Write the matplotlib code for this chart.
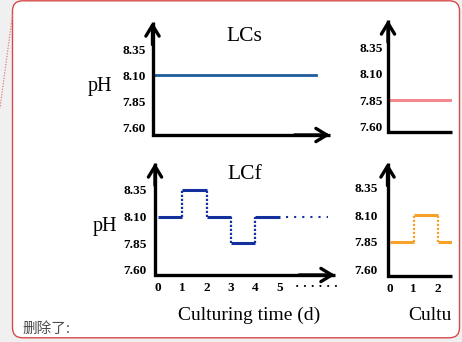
import matplotlib
matplotlib.use("Agg")
import matplotlib.pyplot as plt
import matplotlib.transforms as mtransforms
from matplotlib.patches import FancyBboxPatch
from matplotlib.lines import Line2D

W, H = 462, 342

# pH axis ticks
tick_vals = [7.60, 7.85, 8.10, 8.35]
tick_text = ["7.60", "7.85", "8.10", "8.35"]
day_ticks = [0, 1, 2, 3, 4, 5]

# LCs: constant pH
lcs_days = [0, 5]
lcs_ph = [8.10, 8.10]
# right (cut off) top panel
rt_days = [0, 5]
rt_ph = [7.85, 7.85]

# LCf: daily fluctuating pH
lcf_days = [0, 1, 2, 3, 4, 5]
lcf_ph = [8.10, 8.35, 8.10, 7.85, 8.10]
lcf_more = [5.27, 7.0]  # dotted continuation at 8.10
# right (cut off) bottom panel
rb_days = [0, 1, 2, 3]
rb_ph = [7.85, 8.10, 7.85]

plt.rcParams['font.family'] = ['Liberation Serif', 'DejaVu Serif']

fig = plt.figure(figsize=(W / 100, H / 100), dpi=100)
fig.patch.set_facecolor("#f0f0f0")
px = mtransforms.Affine2D().scale(1 / W, -1 / H).translate(0, 1) + fig.transFigure

# red rounded frame + dotted comment line
frame = FancyBboxPatch((12.5, 0.8), 447, 337, boxstyle="round,pad=0,rounding_size=10",
                       transform=px, fc="white", ec="#d84a4a", lw=1.0, zorder=-5)
fig.patches.append(frame)
fig.add_artist(Line2D([12.5, 0], [15, 108], transform=px, color="#e27c7c",
                      lw=0.9, ls=(0, (1, 1.2))))


def panel(axis_x, base_y, tip_y, right_x, y835, y760, x0, unit, ypad, xticks, arrow_x=True):
    ax = fig.add_axes([axis_x / W, 1 - base_y / H, (right_x - axis_x) / W, (base_y - tip_y) / H])
    ax.patch.set_visible(False)
    for s in ax.spines.values():
        s.set_visible(False)
    ax.plot([0, 0, 1], [1, 0, 0], transform=ax.transAxes, color="black", lw=2.4,
            clip_on=False, solid_joinstyle="miter", solid_capstyle="butt", zorder=5)
    head = dict(arrowstyle="->,head_length=0.56,head_width=0.34", lw=2.4, color="black",
                shrinkA=0, shrinkB=0, mutation_scale=14)
    ax.annotate("", xy=(0, 1), xytext=(0, 0.8), xycoords="axes fraction", arrowprops=head,
                annotation_clip=False)
    if arrow_x:
        ax.annotate("", xy=(1, 0), xytext=(0.8, 0), xycoords="axes fraction", arrowprops=head,
                    annotation_clip=False)
    ax.set_yticks(tick_vals, tick_text, fontweight="bold")
    ax.set_xticks(xticks, [str(d) for d in xticks], fontweight="bold")
    ax.tick_params(axis="y", length=0, pad=ypad, labelsize=9.5)
    ax.tick_params(axis="x", length=0, pad=5, labelsize=9.5)
    ppu = (y760 - y835) / 0.75
    ax.set_ylim(7.60 - (base_y - y760) / ppu, 8.35 + (y835 - tip_y) / ppu)
    ax.set_xlim((axis_x - x0) / unit, (right_x - x0) / unit)
    return ax


def steps(ax, days, vals, color):
    ax.hlines(vals, days[:-1], days[1:], color=color, lw=2.2)
    for i in range(1, len(vals)):
        ax.vlines(days[i], min(vals[i - 1], vals[i]), max(vals[i - 1], vals[i]),
                  color=color, lw=1.6, linestyles=[(0, (1, 0.8))])


# top left: LCs
ax1 = panel(152.5, 135, 22, 330, 49, 128, 153, 32.6, 4.7, [])
ax1.plot(lcs_days, lcs_ph, color="#1f5c99", lw=2.0)

# top right (cut off)
ax2 = panel(388, 132, 20, 452, 47, 127, 388, 32.6, 3.6, [], arrow_x=False)
ax2.plot(rt_days, rt_ph, color="#f4868a", lw=2.1)

# bottom left: LCf
ax3 = panel(155, 275, 163, 335, 190, 270, 158, 24.3, 5.8, day_ticks)
steps(ax3, lcf_days, lcf_ph, "#14309c")
ax3.plot(lcf_more, [lcf_ph[-1]] * 2, color="#14309c", lw=1.5, ls=(0, (1, 2.9)))

# bottom right (cut off)
ax4 = panel(387.5, 276, 163, 452, 188, 269, 389.5, 24, 7.2, day_ticks, arrow_x=False)
steps(ax4, rb_days, rb_ph, "#f7a12a")

# texts
fig.text(244, 41, "LCs", transform=px, ha="center", va="baseline", fontsize=15.5)
fig.text(245, 179, "LCf", transform=px, ha="center", va="baseline", fontsize=15.5)
fig.text(88, 91, "pH", transform=px, ha="left", va="baseline", fontsize=14.5)
fig.text(93, 231, "pH", transform=px, ha="left", va="baseline", fontsize=14.5)
fig.text(295, 287, "· · · · · ·", transform=px, ha="left", va="center",
         fontsize=9.5, fontweight="bold")
fig.text(178, 320, "Culturing time (d)", transform=px, ha="left", va="baseline", fontsize=14)
fig.text(408, 320, "Cultu", transform=px, ha="left", va="baseline", fontsize=14)
fig.text(22, 329, "删除了:", transform=px, ha="left", va="center", fontsize=10.5,
         color="#4a4a4a", family=["Noto Sans CJK SC", "DejaVu Sans"])

fig.savefig("out.png", dpi=100, facecolor=fig.get_facecolor())
